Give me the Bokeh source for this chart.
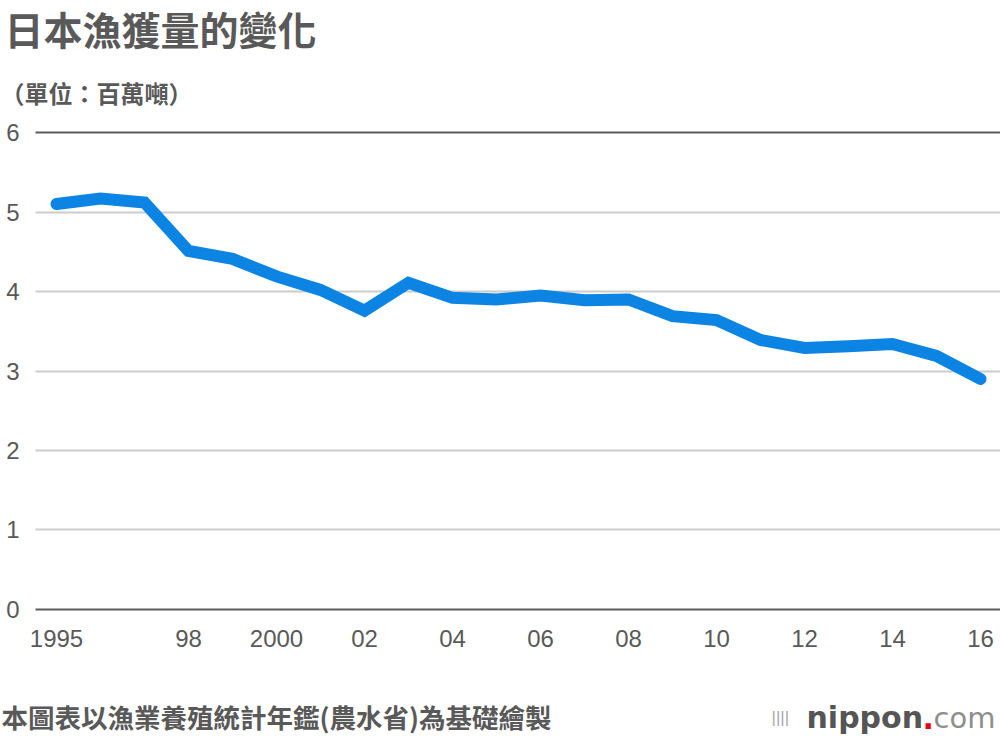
from bokeh.plotting import figure
from bokeh.models import Range1d, FixedTicker, Label, Grid
from bokeh.embed import file_html
from bokeh.resources import INLINE

# ---- data ----
years = list(range(1995, 2017))
catch = [5.10, 5.17, 5.12, 4.51, 4.41, 4.19, 4.02, 3.76, 4.11, 3.92, 3.90,
         3.95, 3.89, 3.90, 3.69, 3.64, 3.39, 3.29, 3.31, 3.34, 3.19, 2.90]
x_ticks = [1995, 1998, 2000, 2002, 2004, 2006, 2008, 2010, 2012, 2014, 2016]
x_tick_labels = ["1995", "98", "2000", "02", "04", "06", "08", "10", "12", "14", "16"]
y_ticks = [0, 1, 2, 3, 4, 5, 6]
light_grid = [1, 2, 3, 4, 5]
dark_grid = [0, 6]

title_text = "日本漁獲量的變化"
unit_text = "（單位：百萬噸）"
source_text = "本圖表以漁業養殖統計年鑑(農水省)為基礎繪製"

TEXT = "#595959"
CJK = "Noto Sans CJK TC"
NUM = "Liberation Sans"
LOGO = "DejaVu Sans"
W, H = 1000, 736

# frame covers the whole canvas; axes are pinned inside it
X0, X1 = 1993.7273, 2016.4545    # data x at canvas left / right
Y0, Y1 = -1.5975, 7.6604         # data y at canvas bottom / top
PLOT_LEFT = 1994.5227             # where the plot area starts (data x)
PLOT_BOTTOM = -0.1258             # where the plot area ends (data y)

p = figure(width=W, height=H, x_range=Range1d(X0, X1), y_range=Range1d(Y0, Y1),
           min_border=0, outline_line_color=None, toolbar_location=None,
           output_backend="svg")

p.xgrid.visible = False
p.ygrid.ticker = FixedTicker(ticks=light_grid)
p.ygrid.grid_line_color = "#cccccc"
p.ygrid.grid_line_width = 2
p.ygrid.cross_bounds = (PLOT_LEFT, X1)
p.add_layout(Grid(dimension=1, ticker=FixedTicker(ticks=dark_grid),
                  grid_line_color="#5a5a5a", grid_line_width=2,
                  cross_bounds=(PLOT_LEFT, X1)))

p.line(years, catch, line_width=12, line_color="#0b84e3",
       line_cap="round", line_join="miter")

p.yaxis.ticker = FixedTicker(ticks=y_ticks)
p.yaxis.fixed_location = PLOT_LEFT
p.xaxis.ticker = FixedTicker(ticks=x_ticks)
p.xaxis.fixed_location = PLOT_BOTTOM
p.xaxis.major_label_overrides = {t: l for t, l in zip(x_ticks, x_tick_labels)}
for ax in (p.xaxis, p.yaxis):
    ax.axis_line_color = None
    ax.major_tick_line_color = None
    ax.minor_tick_line_color = None
    ax.major_tick_out = 0
    ax.major_tick_in = 0
    ax.major_label_text_font = NUM
    ax.major_label_text_font_size = "24px"
    ax.major_label_text_color = TEXT
p.yaxis.major_label_standoff = 16
p.xaxis.major_label_standoff = 10


def lab(text, px, py, size, color=TEXT, font=CJK, style="bold",
        align="left", baseline="middle"):
    p.add_layout(Label(x=px, y=H - py, x_units="screen", y_units="screen",
                       text=text, text_font=font, text_font_size=size,
                       text_font_style=style, text_color=color,
                       text_align=align, text_baseline=baseline))


lab(title_text, 4, 27, "39px")
lab(unit_text, 0, 92, "24px")
lab(source_text, 1, 716, "26.5px")

# logo
lab("||||", 771, 717, "17px", color="#a8a8a8", font=NUM, style="normal", baseline="alphabetic")
lab("nippon", 806, 717, "30px", color="#555555", font=LOGO, style="bold", baseline="alphabetic")
lab(".", 922, 717, "30px", color="#e60012", font=LOGO, style="bold", baseline="alphabetic")
lab("com", 995, 717, "29px", color="#8e8e8e", font=LOGO, style="normal",
    align="right", baseline="alphabetic")

open("out.html", "w").write(file_html(p, INLINE))
